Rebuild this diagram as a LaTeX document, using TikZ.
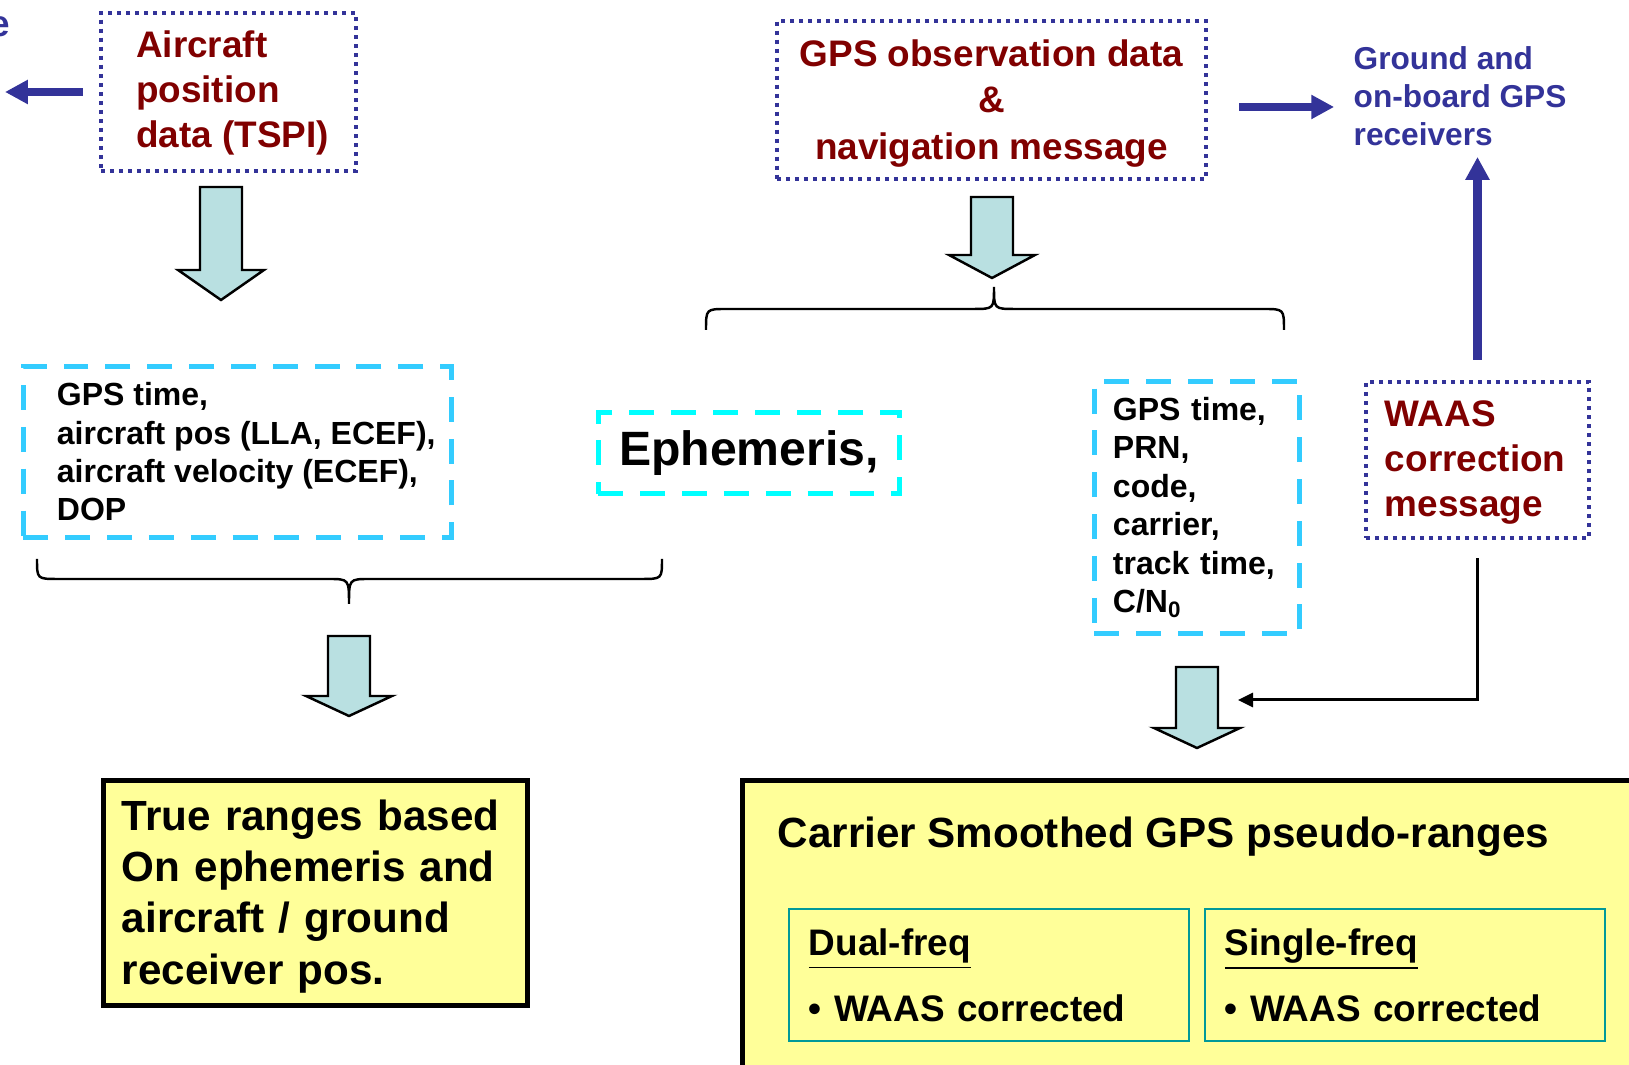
\documentclass[tikz,border=0pt]{standalone}
\usepackage{fontspec}
\setmainfont{Liberation Sans}
\usetikzlibrary{arrows.meta,calc}
\definecolor{navyline}{HTML}{333399}
\definecolor{boxred}{HTML}{800000}
\definecolor{listcyan}{HTML}{33CCFF}
\definecolor{ephcyan}{HTML}{00FFFF}
\definecolor{arrowfill}{HTML}{B9E0E1}
\definecolor{resultyellow}{HTML}{FFFF99}
\definecolor{subteal}{HTML}{009999}
% raise the first line box so the text block sits lower in its frame
\newcommand{\toppad}[1]{\rule{0pt}{\dimexpr\fontcharht\font`(+#1\relax}}

\begin{document}
\begin{tikzpicture}[x=0.01cm, y=-0.01cm, line join=miter,
  dotbox/.style={draw=navyline, line width=1.14pt, dash pattern=on 1.14pt off 1.42pt,
    text=boxred, font=\bfseries\fontsize{10.5}{12.8}\selectfont},
  dashbox/.style={draw=listcyan, line width=1.42pt, dash pattern=on 7.1pt off 4.8pt,
    font=\bfseries\fontsize{9.1}{10.9}\selectfont},
  yelbox/.style={draw=black, fill=resultyellow, line width=1.42pt,
    font=\bfseries\fontsize{12}{14.6}\selectfont},
  subbox/.style={draw=subteal, line width=0.6pt, align=left, inner xsep=0.2cm,
    text width=3.6cm, minimum height=1.32cm, font=\bfseries\fontsize{10.5}{18.8}\selectfont},
  blockarrow/.style={draw=black, fill=arrowfill, line width=0.7pt},
  bluearrow/.style={draw=navyline, line width=2.3pt, -{Triangle[length=6.5pt, width=6.5pt]}},
  feed/.style={draw=black, line width=0.85pt, -{Triangle[length=4.3pt, width=4pt]}},
  brace/.style={draw=black, line width=0.7pt}]

\useasboundingbox (0,0) rectangle (1629,1065);

% cut-off word at the left edge
\node[text=navyline, font=\bfseries\fontsize{10.5}{12}\selectfont, anchor=base east, inner sep=0]
  (cutword) at (11,37) {e};

% sources (top row)
\node[dotbox, minimum width=2.55cm, minimum height=1.58cm, align=left]
  (acft) at (228.5,92) {\toppad{0.04cm}Aircraft\\position\\data (TSPI)\hspace*{-0.08cm}\rule{0pt}{0pt}};
\node[dotbox, minimum width=4.29cm, minimum height=1.58cm, align=center,
  font=\bfseries\fontsize{10.5}{13.2}\selectfont]
  (obs) at (991.5,100) {\toppad{0.08cm}GPS observation data\\\&\\navigation message};
\node[text=navyline, font=\bfseries\fontsize{9}{10.8}\selectfont, align=left, anchor=west, inner sep=0]
  (gnd) at (1353,96) {Ground and\\on-board GPS\\receivers};
\node[dotbox, minimum height=1.56cm, align=left, inner xsep=0.19cm, text width=1.85cm]
  (waas) at (1477.5,460) {\toppad{0.06cm}WAAS\\correction\\message};

% data sets
\node[dashbox, minimum width=4.28cm, minimum height=1.71cm, align=left]
  (llist) at (237.5,452) {GPS time,\\\makebox[3.61cm][l]{aircraft pos (LLA, ECEF),}\\aircraft velocity (ECEF),\\DOP};
\node[dashbox, draw=ephcyan, minimum width=3.01cm, minimum height=0.81cm,
  font=\bfseries\fontsize{13.7}{16}\selectfont]
  (ephem) at (749,453) {Ephemeris,};
\node[dashbox, minimum height=2.52cm, align=left, inner xsep=0.185cm, text width=1.68cm,
  font=\bfseries\fontsize{9.1}{10.95}\selectfont]
  (rlist) at (1197,507.5) {GPS time,\\PRN,\\code,\\carrier,\\track time,\\C/N\textsubscript{0}};

% results
\node[yelbox, minimum height=2.25cm, align=left, inner xsep=0.18cm, text width=3.875cm]
  (truer) at (315.75,893) {\toppad{0.08cm}True ranges based\\On ephemeris and\\aircraft / ground\\receiver pos.};
\node[yelbox, minimum width=9.575cm, minimum height=3.395cm] (csbox) at (1221.25,950.25) {};
\node[font=\bfseries\fontsize{12}{14.3}\selectfont, anchor=base west, inner sep=0]
  (cstitle) at (777,848) {Carrier Smoothed GPS pseudo-ranges};
\node[subbox] (dual) at (989,975) {\underline{Dual-freq}\\\textbullet\ WAAS corrected};
\node[subbox] (single) at (1405,975) {\underline{Single-freq}\\\textbullet\ WAAS corrected};

% block arrows: centre x / top / head / tip
\foreach \cx/\ty/\hy/\tp in {221/187/270/300, 992/197/255/278, 349/636/696/716, 1197/667/728/748}
  \draw[blockarrow] (\cx-21,\ty) -- (\cx+21,\ty) -- (\cx+21,\hy) -- (\cx+43,\hy)
    -- (\cx,\tp) -- (\cx-43,\hy) -- (\cx-21,\hy) -- cycle;

% braces
\draw[brace] (706,330) .. controls (706,309) .. (727,309) -- (973,309)
  .. controls (994,309) .. (994,287) .. controls (994,309) .. (1015,309)
  -- (1263,309) .. controls (1284,309) .. (1284,330);
\draw[brace] (37,559) .. controls (37,579) .. (58,579) -- (328,579)
  .. controls (349,579) .. (349,604) .. controls (349,579) .. (370,579)
  -- (641,579) .. controls (662,579) .. (662,559);

% connectors
\coordinate (offpage) at (5,92);
\coordinate (smoothin) at (1238,700);
\draw[bluearrow, shorten <=0.16cm] (acft.west) -- (offpage);
\draw[bluearrow] ($(obs.east)+(31,7)$) -- ($(obs.east)+(126,7)$);
\draw[bluearrow, shorten <=0.2cm] (waas.north) -- ($(waas.north)+(0,-223)$);
\draw[feed, shorten <=0.18cm] (waas.south) |- (smoothin);

\end{tikzpicture}
\end{document}
